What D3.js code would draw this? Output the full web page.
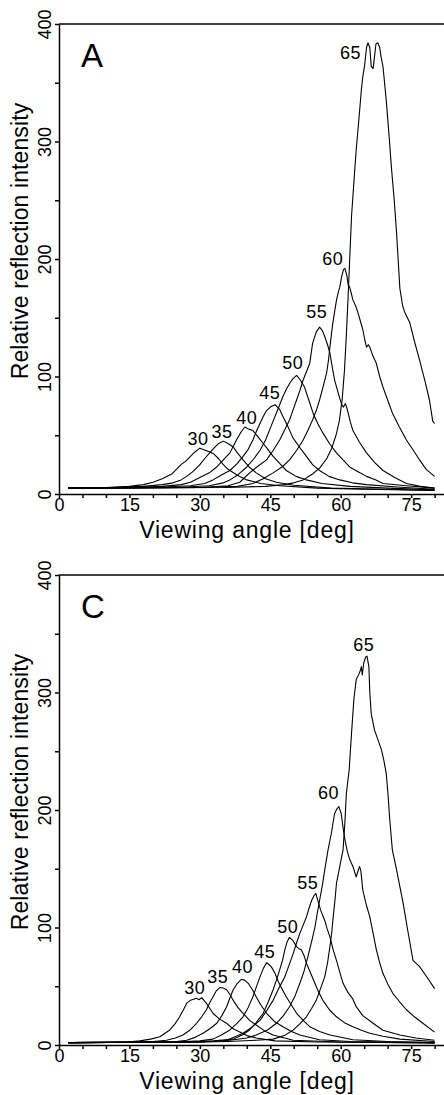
<!DOCTYPE html>
<html>
<head>
  <meta charset="utf-8">
  <script src="https://d3js.org/d3.v7.min.js"></script>
  <style>
    body { margin: 0; background: #fff; }
    svg { display: block; font-family: "Liberation Sans", Arial, sans-serif; }
  </style>
</head>
<body>
<script>
// Reflection intensity vs viewing angle, one curve per illumination angle.
// Each curve is [angle (deg), relative intensity].

// ---- panel A ----
var a30 = [[2,5],[10,5.5],[15,6.5],[18,8],[20,10],[22,13],[24,17],[25,21],[26,25],[27,28],[28,32],[29,36],[30,39],[31,37.5],[32,36],[33,34],[34,30],[35,25],[36,21],[38,16],[40,12],[43,9],[47,7],[55,5],[65,4],[80,3]];
var a35 = [[2,5],[10,5.3],[18,6.5],[22,8],[24.3,9.5],[26,12],[27.2,15],[28.5,19],[30,25],[31,30],[32.1,35],[33,39],[34,43],[35,45],[36,43],[37.1,40],[38,35],[39.2,29],[40.5,23],[42,18],[44,13],[46.3,10],[50,7.5],[58,5],[70,4],[80,3]];
var a40 = [[2,5],[15,5.5],[22,6.5],[26,8],[28,10],[30,14],[32,18],[33.6,23],[35,29],[36.4,35],[37.8,46],[38.8,53],[39.6,57],[40.5,55],[41.3,54],[42.3,49],[43.5,43],[44.5,38],[45.6,32],[47,26],[48.4,20],[50.5,15],[52.7,12],[56,9],[62,6.5],[70,5],[80,3.5]];
var a45 = [[2,5],[20,5.5],[28,7],[31,9],[32.8,12],[34.5,16],[36.4,20],[38,26],[39.2,32],[40.3,38],[41.3,46],[42,53],[42.8,60],[43.5,66],[44.2,71],[45,74],[46,76],[47,72],[47.7,66],[48.8,57],[49.8,48],[51.2,40],[52.7,32],[54,25],[55.5,20],[57.5,15],[59.8,12],[62.5,9.5],[65.5,8],[72,6],[80,4]];
var a50 = [[2,5],[25,5.5],[32,7],[35,9.5],[36.4,12],[38,16],[40,23],[41.5,30],[42.8,37],[44,46],[44.9,55],[45.6,62],[46.3,69],[47,76],[47.7,83],[48.4,89],[49.1,94],[49.8,98],[50.6,101],[51.4,97],[52.3,91],[53.2,80],[54.1,69],[55.1,60],[56.2,52],[57.6,43],[59.1,35],[60.5,29],[61.9,23],[63.7,19],[65.5,15],[67.5,12],[69,9],[74,7],[80,5]];
var a55 = [[2,5],[30,5.5],[36,7],[38.5,10],[40.6,18],[42.5,24],[44.2,29],[45.6,37],[47,46],[48,54],[49.1,63],[49.8,71],[50.6,80],[51.3,88],[52,97],[52.7,104],[53.4,111],[54,128],[54.8,138],[55.5,142],[56.1,139],[56.6,134],[57.2,127],[57.7,120],[58.2,108],[58.7,97],[59.4,87],[60.2,76],[60.6,74],[61,77],[61.4,72],[62,62],[62.6,54],[64,44],[65.5,35],[67.2,27],[69,20],[71.5,14],[74,9],[77,6.5],[80,5]];
var a60 = [[2,5],[30,5.5],[38,6.5],[41.3,9],[43.5,13],[45.6,18],[47.5,23],[49.1,29],[50.6,37],[52,46],[53,54],[54,63],[54.8,71],[55.5,80],[56.3,92],[57,103],[57.4,114],[57.7,125],[58,135],[58.3,145],[58.7,155],[59.1,165],[59.5,172],[59.8,176],[60.2,185],[60.6,191],[60.9,192],[61.3,186],[61.6,178],[61.9,176],[62.3,170],[62.6,165],[63.2,160],[63.7,154],[64.2,147],[64.7,140],[65.2,130],[65.5,125],[65.9,127],[66.3,124],[66.8,118],[67.6,111],[68.3,100],[69,91],[70,80],[71,69],[72.5,57],[74,46],[75.5,37],[76.8,29],[78.2,21],[80,15]];
var a65 = [[2,5],[35,5.5],[44,6.5],[48,8],[50,9.5],[52,12],[54,17],[55.5,22],[57,30],[58,38],[59,50],[59.7,62],[60.3,80],[60.8,105],[61.2,135],[61.6,170],[62.3,236],[62.8,265],[63.3,293],[63.9,320],[64.4,344],[64.7,355],[65.1,365],[65.5,380],[65.8,384],[66.2,380],[66.5,364],[66.9,362],[67.2,372],[67.5,383],[67.9,384],[68.3,380],[68.6,372],[69,364],[69.7,335],[70.3,305],[70.8,278],[71.4,250],[71.9,222],[72.6,175],[73.2,160],[73.6,155],[74.2,150],[74.7,146],[75.7,130],[76.8,114],[77.9,97],[78.9,80],[79.6,62],[80,60]];

// ---- panel C ----
var c30 = [[2,2],[10,2.3],[15,2.8],[17.2,3.5],[19.5,5],[21.5,7],[23.6,12.8],[24.7,18],[25.7,24],[26.5,30],[27.2,35.6],[28,38],[29.3,39.7],[29.8,38.5],[30.4,40.3],[31.4,35.5],[32.8,27],[34.2,22],[35.7,18.5],[37,14],[38.5,11],[40,8],[42,6],[46,3.5],[55,2.5],[80,1.8]];
var c35 = [[2,2],[15,2.3],[20,3],[22.9,4],[24.8,6],[26.4,8.5],[28,13],[29.3,18.5],[30.4,24],[31.4,30],[32.1,36],[32.8,41],[33.5,46],[34.3,49],[35,48.5],[35.7,47],[36.4,43],[37.1,38],[38.1,32],[39.2,27],[40.6,21],[42,17],[43.8,12],[45.6,8.5],[49.9,4],[60,2.5],[80,1.8]];
var c40 = [[2,2],[20,2.5],[25,3],[27.2,4],[29,6.5],[30.7,10],[32.2,14],[33.6,18.5],[34.7,25],[35.7,32.6],[36.4,40],[37.1,47],[38,52.5],[38.9,56],[39.6,55],[40.3,52.5],[41.2,47],[42,41],[43,34],[44.2,27],[45.9,20],[47.7,15.6],[49.5,11.5],[51.3,8.5],[55.5,4.5],[62,3],[80,2]];
var c45 = [[2,2],[25,2.5],[30,3.5],[32.8,5],[34.6,8.5],[36.4,12.8],[37.8,18],[39.2,24],[40.3,32],[41.3,41],[42,49],[42.8,58],[43.5,65],[44.2,70],[44.7,68.5],[45.2,66.7],[46,61],[46.7,54],[47.6,47],[48.4,41],[49.5,34],[50.6,27],[52,21],[53.4,15.6],[55.5,11.5],[57.7,8.5],[62.6,4.5],[70,3],[80,2]];
var c50 = [[2,2],[28,2.5],[33,3.5],[37.1,5],[39,8.5],[40.6,12.8],[42,19],[43.5,27],[44.6,37],[45.6,47],[46.3,55],[47,64],[47.6,72],[48.1,81],[48.6,88],[49.1,91.6],[49.8,89],[50.6,83.7],[51.1,82],[51.6,81],[52.2,76],[52.7,69.5],[53.6,61],[54.5,52.5],[55.3,45],[56.2,38],[57.6,30],[59.1,24],[60.8,19],[62.6,15.6],[64.4,12.5],[66.2,10],[69,7.5],[72.6,5],[80,3]];
var c55 = [[2,2],[30,2.5],[33,3],[35.7,4],[37.5,7],[39.2,10],[41,15],[42.8,21],[44.2,29],[45.6,38],[46.8,48],[48.1,58],[49,68],[49.9,78],[50.6,87],[51.3,95],[52,102],[52.7,109],[53.3,117],[53.8,123],[54.3,127],[54.7,129],[55.2,122],[55.7,115],[56.6,106],[57.1,99],[57.7,92],[58.4,81],[59.1,72],[59.8,62],[60.5,52.5],[61.5,45],[62.6,39],[63.3,32.6],[64.7,25],[66.9,18.5],[69,12.5],[72.6,8.5],[76,6],[80,4]];
var c60 = [[2,2],[30,2.5],[36.4,4],[40,6],[42,8.5],[44.5,13],[46.3,18.5],[47.8,25],[49.1,32.6],[50.3,42],[51.3,52.5],[52.2,63],[53,75],[53.8,88],[54.5,100],[55,112],[55.5,123],[56.1,136],[56.6,149],[57.3,166],[58,180],[58.4,190],[58.7,197],[59.2,201],[59.6,203],[60.1,197],[60.5,185],[60.9,174.5],[61.4,165],[61.9,158],[62.6,152],[63.3,143],[63.6,147],[64,152],[64.3,148],[64.7,132],[65.4,120],[66.2,109],[66.9,95],[67.6,81],[68.3,70],[69,61],[70,52],[71.1,44],[72.5,37],[74,30],[75.7,24],[77.5,18.5],[80,11]];
var c65 = [[2,2],[30,2.5],[36,3],[42,4],[45.6,5],[48,8],[49.9,12.8],[51.3,18],[52.7,24],[53.8,31],[54.8,38],[55.7,48],[56.6,58],[57.2,70],[57.7,83.7],[58.1,96],[58.4,109],[58.8,124],[59.1,137.6],[59.8,152],[60.5,166],[60.9,190],[61.2,214],[61.8,234],[62.3,265],[62.8,294],[63.3,311],[63.8,315],[64.2,319],[64.4,322],[64.6,315],[64.9,325],[65.3,330],[65.6,331],[66,322],[66.2,300],[66.5,282],[67.2,268],[68,259],[68.7,251],[69.2,242],[69.7,231],[70.1,212],[70.4,194],[71,166],[71.9,149],[73.3,120.6],[74.3,97],[75.4,72],[76.8,66.7],[78.5,57],[80,48]];

// peak labels: [text, angle, intensity] of label centre
var labelsA = [["30",29.6,46.8],["35",34.7,53.6],["40",40,65.5],["45",44.9,86],["50",49.8,112],["55",54.9,155],["60",58.3,200],["65",62.1,376]];
var labelsC = [["30",28.9,49],["35",33.8,58.7],["40",39.1,66.4],["45",43.8,79.4],["50",48.7,100.7],["55",53,138.5],["60",57.4,214.7],["65",64.9,341]];

// axis ticks
var xTicks = d3.range(0, 81, 5);
var xLabelEvery = 15;
var yTicks = [0, 50, 100, 150, 200, 250, 300, 350, 400];
var yLabelEvery = 100;

var panels = [
  {letter: "A", top: 24, curves: [a30, a35, a40, a45, a50, a55, a60, a65], labels: labelsA},
  {letter: "C", top: 575, curves: [c30, c35, c40, c45, c50, c55, c60, c65], labels: labelsC}
];

var width = 444, height = 1095, panelH = 470;
var font = "'Liberation Sans', Arial, sans-serif";

var svg = d3.select("body")
  .append("svg")
    .attr("width", width)
    .attr("height", height);

svg.append("rect")
  .attr("width", width)
  .attr("height", height)
  .attr("fill", "#fff");

var x = d3.scaleLinear().domain([0, 82]).range([59, 444]);
var y = d3.scaleLinear().domain([0, 400]).range([panelH, 0]);

var line = d3.line()
  .x(function (d) { return x(d[0]); })
  .y(function (d) { return y(d[1]); });

panels.forEach(function (p) {
  var g = svg.append("g")
    .attr("transform", "translate(0," + p.top + ")");

  // curves
  g.selectAll("path.curve")
    .data(p.curves)
    .enter()
    .append("path")
      .attr("class", "curve")
      .attr("d", line)
      .attr("fill", "none")
      .attr("stroke", "#000")
      .attr("stroke-width", 1.1)
      .attr("stroke-linejoin", "round");

  // x axis
  var xAxis = g.append("g")
    .attr("transform", "translate(0," + panelH + ")")
    .call(d3.axisBottom(x)
      .tickValues(xTicks)
      .tickSize(4)
      .tickSizeOuter(0)
      .tickFormat(function (d) { return d % xLabelEvery === 0 ? d : ""; }));
  xAxis.selectAll("text")
    .attr("y", 4)
    .attr("font-size", "18px")
    .attr("font-family", font)
    .attr("fill", "#000");

  // y axis, labels turned on their side
  var yAxis = g.append("g")
    .attr("transform", "translate(" + x(0) + ",0)")
    .call(d3.axisLeft(y)
      .tickValues(yTicks)
      .tickSize(4)
      .tickSizeOuter(0)
      .tickFormat(function (d) { return d % yLabelEvery === 0 ? d : ""; }));
  yAxis.selectAll("text")
    .attr("transform", "rotate(-90)")
    .attr("x", 0)
    .attr("y", -8)
    .attr("dy", 0)
    .attr("text-anchor", "middle")
    .attr("font-size", "18px")
    .attr("font-family", font)
    .attr("fill", "#000");

  g.selectAll(".domain, .tick line")
    .attr("stroke", "#000")
    .attr("stroke-width", 1.5);

  // frame line along the top
  g.append("line")
    .attr("x1", x(0)).attr("x2", width)
    .attr("y1", y(400)).attr("y2", y(400))
    .attr("stroke", "#000")
    .attr("stroke-width", 1.5);

  // peak labels
  g.selectAll("text.peak")
    .data(p.labels)
    .enter()
    .append("text")
      .attr("class", "peak")
      .attr("x", function (d) { return x(d[1]); })
      .attr("y", function (d) { return y(d[2]); })
      .attr("dy", "0.36em")
      .attr("text-anchor", "middle")
      .attr("font-size", "18px")
      .attr("letter-spacing", "0.5px")
      .text(function (d) { return d[0]; });

  // panel letter
  g.append("text")
    .attr("x", 81)
    .attr("y", 43)
    .attr("font-size", "33px")
    .text(p.letter);

  // axis titles
  g.append("text")
    .attr("x", 247)
    .attr("y", panelH + 44)
    .attr("text-anchor", "middle")
    .attr("font-size", "23px")
    .attr("letter-spacing", "0.8px")
    .text("Viewing angle [deg]");

  g.append("text")
    .attr("transform", "translate(28," + 217 + ") rotate(-90)")
    .attr("text-anchor", "middle")
    .attr("font-size", "23px")
    .attr("letter-spacing", "0.1px")
    .text("Relative reflection intensity");
});
</script>
</body>
</html>
